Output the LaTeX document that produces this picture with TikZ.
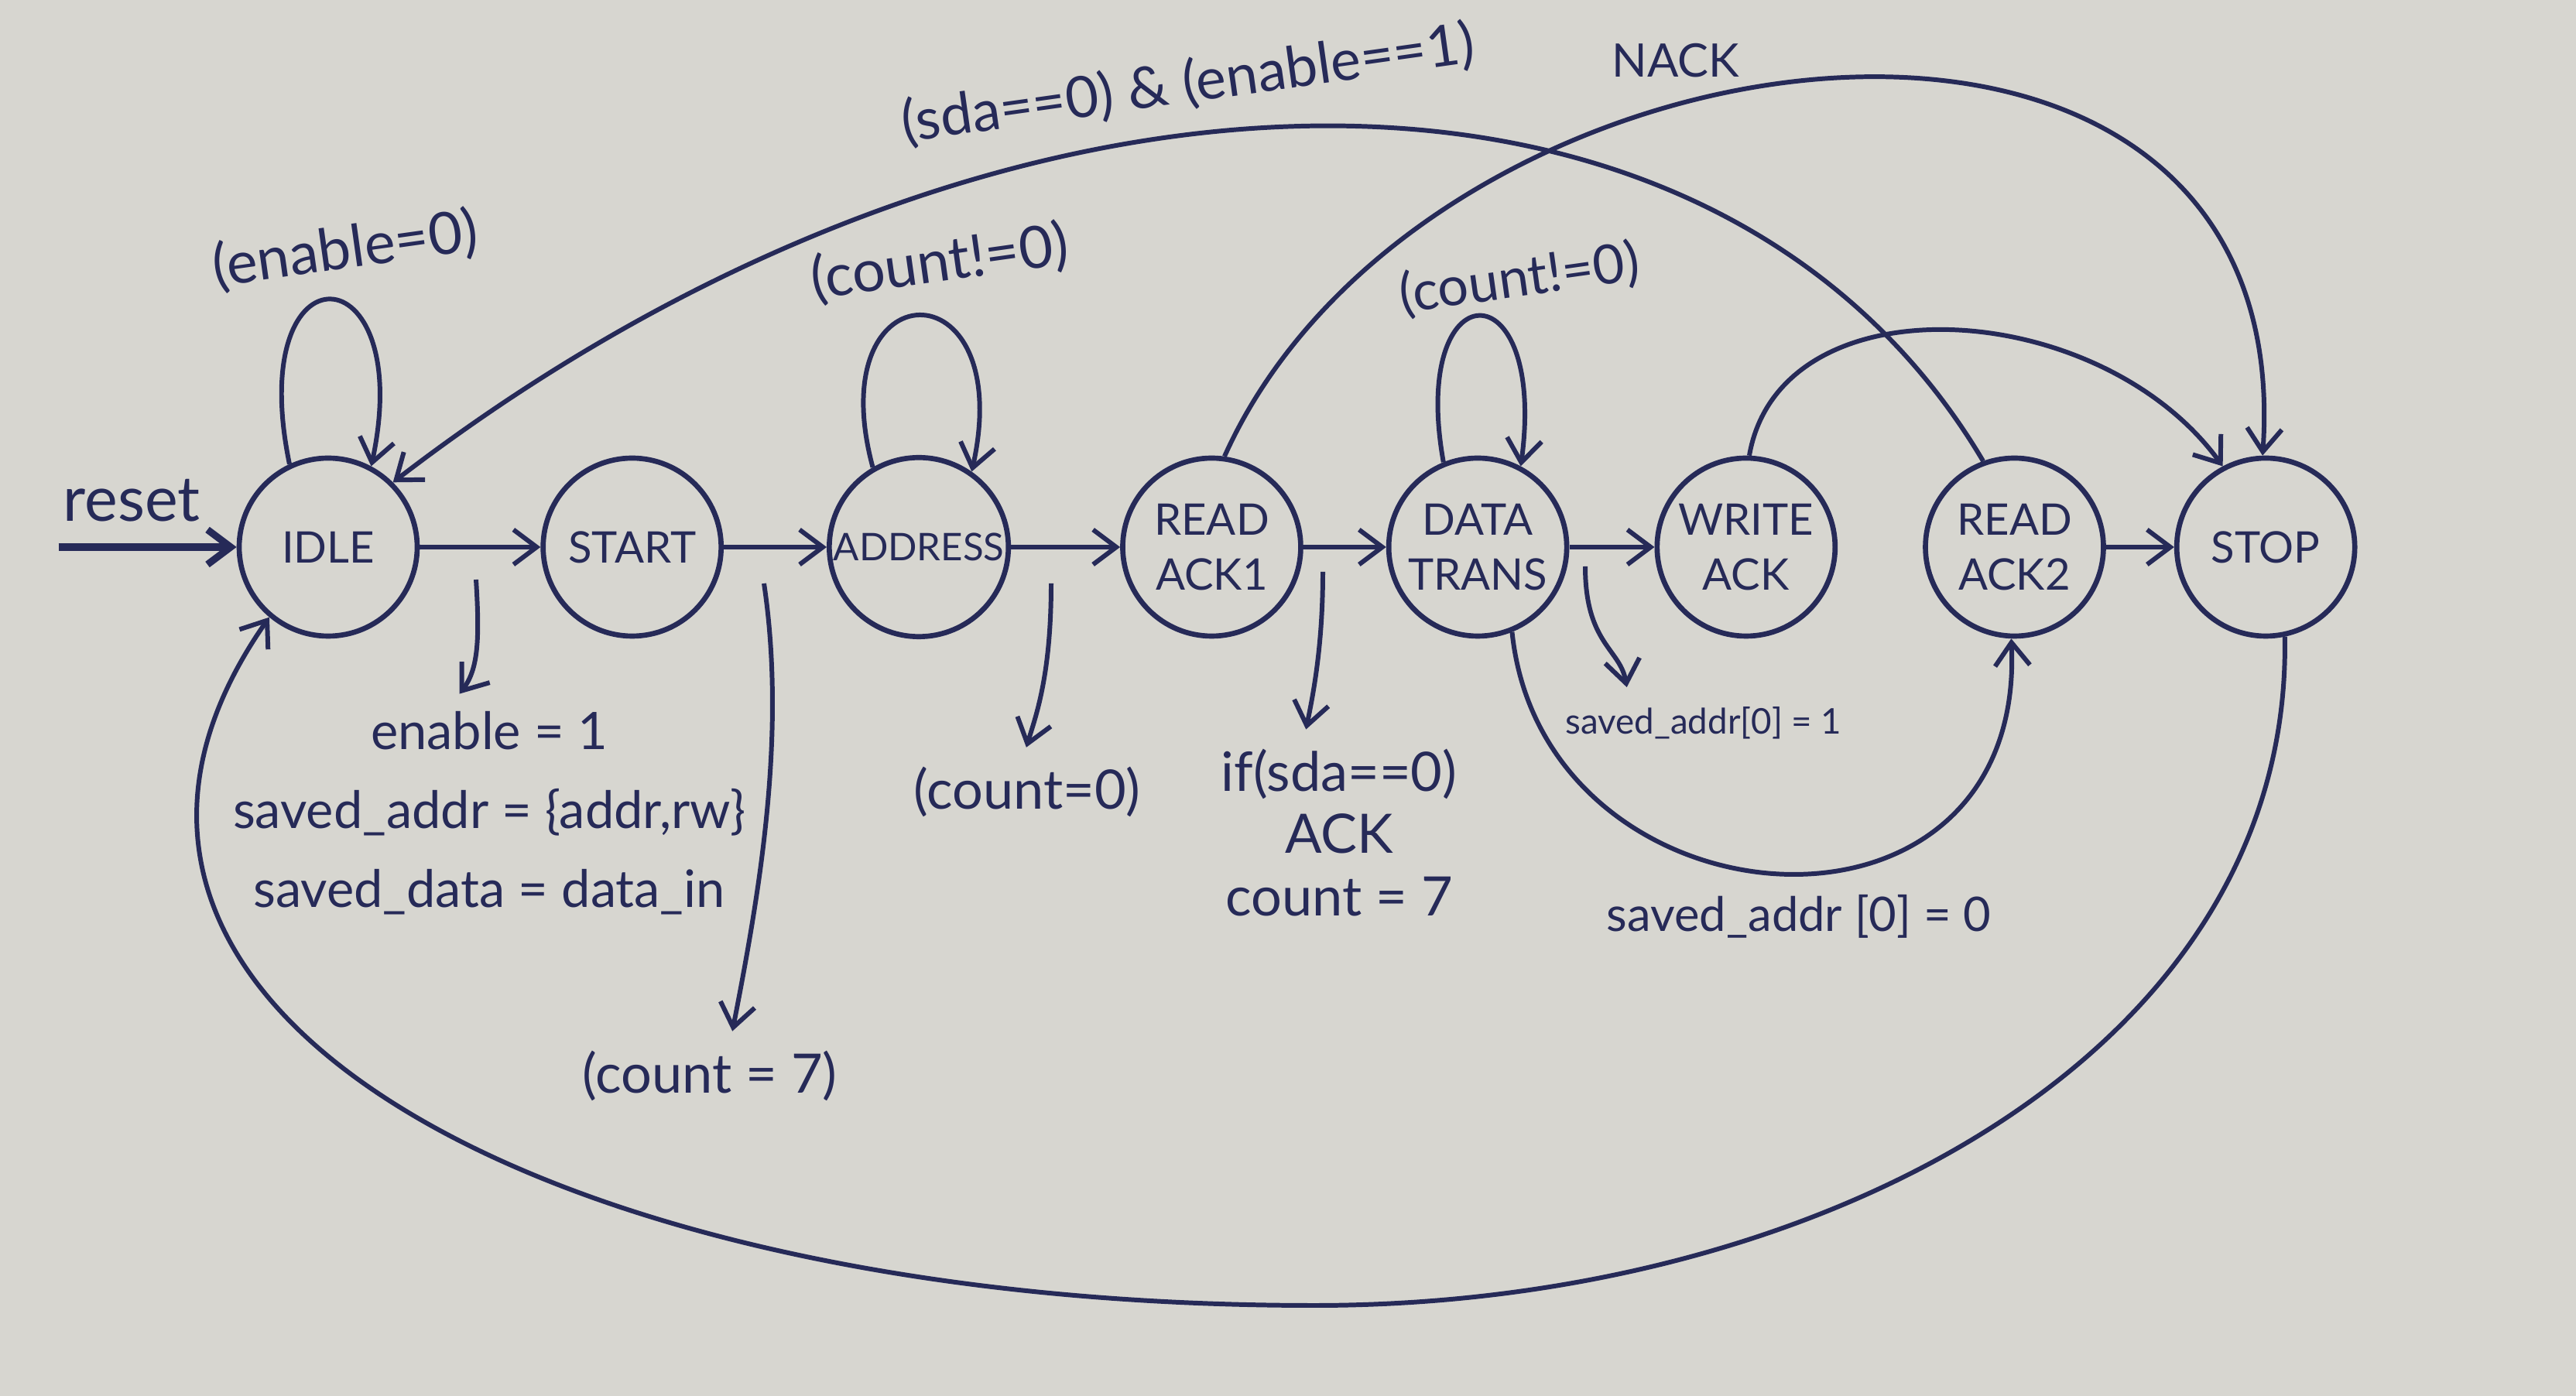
\documentclass[tikz,border=0pt]{standalone}
\usepackage{fontspec}
\setmainfont{Lato}
\usepackage{tikz}
\usetikzlibrary{arrows.meta,positioning}
\definecolor{ink}{RGB}{38,42,88}
\definecolor{paper}{RGB}{215,214,208}
\tikzset
{
    statenode/.style = {circle, draw=ink, line width=1.9pt, align=center, minimum size=2.3cm, inner sep=1pt, text=ink, font=\fontsize{16}{20}\selectfont},
    condlabel/.style = {text=ink, align=center, font=\fontsize{20}{29}\selectfont},
    pointer/.style   = {shorten >=3pt}
}
\begin{document}
\begin{tikzpicture}[->, >={Straight Barb[length=3mm,width=4.5mm]}, line width=1.7pt, color=ink]
    \useasboundingbox (0,0) rectangle (33.28,18.04);
    \fill [paper, -] (0,0) rectangle (33.28,18.04);
    \node [statenode] (idle) at (4.24,10.97) {IDLE};
    \node [statenode, right=1.56cm of idle] (start) {START};
    \node [statenode, right=1.33cm of start, font=\fontsize{14}{18}\selectfont] (address) {ADDRESS};
    \node [statenode, right=1.41cm of address] (readack1) {READ\\ACK1};
    \node [statenode, right=1.07cm of readack1] (datatrans) {DATA\\TRANS};
    \node [statenode, right=1.10cm of datatrans] (writeack) {WRITE\\ACK};
    \node [statenode, right=1.10cm of writeack] (readack2) {READ\\ACK2};
    \node [statenode, right=0.88cm of readack2] (stop) {STOP};
    \coordinate [left=2.3cm of idle.west] (rst);

    \node [condlabel, font=\fontsize{23}{29}\selectfont] (reset) at (1.70,11.57) {reset};
    \node [condlabel, rotate=8, font=\fontsize{21.5}{29}\selectfont] (idleloop) at (4.46,14.81) {(enable=0)};
    \node [condlabel, rotate=8, font=\fontsize{21.5}{29}\selectfont] (addrloop) at (12.14,14.64) {(count!=0)};
    \node [condlabel, rotate=8] (dataloop) at (19.63,14.43) {(count!=0)};
    \node [condlabel, font=\fontsize{19}{29}\selectfont] (idleact) at (6.32,7.53) {enable = 1\\saved\_addr = \{addr,rw\}\\saved\_data = data\_in};
    \node [condlabel] (cnt7) at (9.17,4.14) {(count = 7)};
    \node [condlabel] (cnt0) at (13.27,7.81) {(count=0)};
    \node [condlabel, font=\fontsize{20}{23}\selectfont] (ackact) at (17.3,7.28) {if(sda==0)\\ACK\\count = 7};
    \node [condlabel, font=\fontsize{13}{16}\selectfont] (wrcond) at (22.01,8.70) {saved\_addr[0] = 1};
    \node [condlabel, font=\fontsize{17.5}{22}\selectfont] (rdcond) at (23.24,6.20) {saved\_addr [0] = 0};
    \node [condlabel, rotate=8, font=\fontsize{21}{29}\selectfont] (sdacond) at (15.35,16.95) {(sda==0) \& (enable==1)};
    \node [condlabel, font=\fontsize{17}{22}\selectfont] (nack) at (21.65,17.26) {NACK};

    \draw [line width=2.6pt] (rst) -- (idle);
    \draw (idle) -- (start);
    \draw (start) -- (address);
    \draw (address) -- (readack1);
    \draw (readack1) -- (datatrans);
    \draw (datatrans) -- (writeack);
    \draw (readack2) -- (stop);

    \draw (idle.115) .. controls +(-0.6,2.9) and +(0.6,2.8) .. (idle.62);
    \draw (address.120) .. controls +(-0.7,2.6) and +(0.6,2.7) .. (address.55);
    \draw (datatrans.112) .. controls +(-0.45,2.5) and +(0.35,2.6) .. (datatrans.62);

    \draw (readack2.110) .. controls +(-3.5,5.9) and +(7.8,6.0) .. (idle.45);
    \draw (readack1.82) .. controls +(2.6,5.8) and +(0.5,7.2) .. (stop.92);
    \draw (writeack.88) .. controls +(0.4,2.3) and +(-1.6,2.2) .. (stop.118);
    \draw (datatrans.-68) .. controls +(0.4,-3.9) and +(0.2,-4.3) .. (readack2.-92);
    \draw (stop.-78) .. controls +(0.1,-5.4) and +(6.5,0) .. (16.98,1.17) .. controls +(-10,0) and +(-3.5,-5) .. (idle.230);

    \coordinate (idlept) at (6.15,10.55);
    \coordinate (startpt) at (9.87,10.5);
    \coordinate (addrpt) at (13.58,10.5);
    \coordinate (ackpt) at (17.09,10.65);
    \coordinate (datapt) at (20.48,10.72);
    \draw [pointer] (idlept) .. controls +(0.05,-0.8) and +(0.3,0.4) .. (idleact.107);
    \draw [pointer] (startpt) .. controls +(0.3,-2.0) and +(0.35,1.8) .. (cnt7.60);
    \draw [pointer] (addrpt) .. controls +(0,-1.2) and +(0.15,0.5) .. (cnt0.95);
    \draw [pointer] (ackpt) .. controls +(0,-1.0) and +(0.1,0.5) .. (ackact.110);
    \draw [pointer] (datapt) .. controls +(0,-1.0) and +(-0.1,0.6) .. (wrcond.160);
\end{tikzpicture}
\end{document}
